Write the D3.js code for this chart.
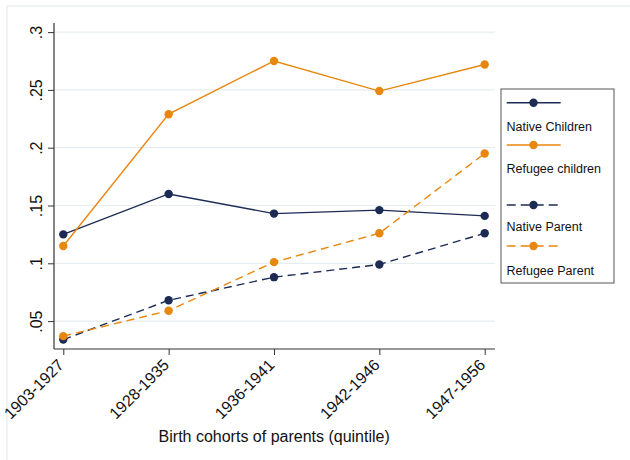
<!DOCTYPE html>
<html>
<head>
<meta charset="utf-8">
<script src="https://cdn.jsdelivr.net/npm/d3@7/dist/d3.min.js"></script>
<style>
  html, body { margin: 0; padding: 0; background: #ffffff; }
  svg { display: block; font-family: "Liberation Sans", Arial, Helvetica, sans-serif; }
</style>
</head>
<body>
<svg id="chart" width="630" height="460"></svg>
<script>
// Birth-cohort quintiles of the parents
const cohorts = ["1903-1927", "1928-1935", "1936-1941", "1942-1946", "1947-1956"];

// Shares by group and cohort
const nativeChildren  = [0.125, 0.160, 0.143, 0.146, 0.141];
const refugeeChildren = [0.115, 0.229, 0.275, 0.249, 0.272];
const nativeParent    = [0.034, 0.068, 0.088, 0.099, 0.126];
const refugeeParent   = [0.037, 0.059, 0.101, 0.126, 0.195];

// Y axis ticks and their labels
const yTicks = [0.05, 0.1, 0.15, 0.2, 0.25, 0.3];
const yTickLabels = [".05", ".1", ".15", ".2", ".25", ".3"];

const xTitle = "Birth cohorts of parents (quintile)";

const NAVY = "#1c2b54";
const ORANGE = "#e8870e";

const series = [
  { name: "Native Children",  values: nativeChildren,  color: NAVY,   dash: null },
  { name: "Refugee children", values: refugeeChildren, color: ORANGE, dash: null },
  { name: "Native Parent",    values: nativeParent,    color: NAVY,   dash: "8,5" },
  { name: "Refugee Parent",   values: refugeeParent,   color: ORANGE, dash: "8,5" }
];

const svg = d3.select("#chart");

// faint outer frame of the graph region
svg.append("rect")
  .attr("x", 7).attr("y", 6)
  .attr("width", 660).attr("height", 480)
  .attr("fill", "none")
  .attr("stroke", "#e9eff1")
  .attr("stroke-width", 1.5);

const plot = { left: 54, right: 495, top: 23, bottom: 349 };

const x = d3.scalePoint()
  .domain(cohorts)
  .range([63.3, 484.7]);

const y = d3.scaleLinear()
  .domain([0.05, 0.3])
  .range([321.1, 32.1]);

// horizontal grid lines
svg.append("g")
  .selectAll("line")
  .data(yTicks)
  .join("line")
  .attr("x1", plot.left).attr("x2", plot.right)
  .attr("y1", d => y(d)).attr("y2", d => y(d))
  .attr("stroke", "#e6eef1")
  .attr("stroke-width", 1.2);

// Y axis
const yAxis = svg.append("g")
  .attr("transform", `translate(${plot.left},0)`)
  .call(d3.axisLeft(y)
    .tickValues(yTicks)
    .tickFormat((d, i) => yTickLabels[i])
    .tickSize(6)
    .tickSizeOuter(0));
yAxis.select(".domain").remove();
yAxis.selectAll(".tick line").attr("stroke", "#333").attr("stroke-width", 1);
yAxis.selectAll(".tick text")
  .attr("x", null).attr("dy", null)
  .attr("transform", "translate(-12.3,0) rotate(-90)")
  .attr("text-anchor", "middle")
  .attr("font-size", 16)
  .attr("fill", "#111");

// X axis
const xAxis = svg.append("g")
  .attr("transform", `translate(0,${plot.bottom})`)
  .call(d3.axisBottom(x).tickSize(6).tickSizeOuter(0));
xAxis.select(".domain").remove();
xAxis.selectAll(".tick line").attr("stroke", "#333").attr("stroke-width", 1);
xAxis.selectAll(".tick text")
  .attr("y", null).attr("dy", null)
  .attr("transform", "translate(1,17) rotate(-45)")
  .attr("text-anchor", "end")
  .attr("font-size", 16)
  .attr("fill", "#111");

// axis lines
svg.append("line")
  .attr("x1", plot.left).attr("x2", plot.left)
  .attr("y1", plot.top).attr("y2", plot.bottom)
  .attr("stroke", "#333").attr("stroke-width", 1.2);
svg.append("line")
  .attr("x1", plot.left).attr("x2", plot.right)
  .attr("y1", plot.bottom).attr("y2", plot.bottom)
  .attr("stroke", "#333").attr("stroke-width", 1.2);

// X axis title
svg.append("text")
  .attr("x", 274.2).attr("y", 441.5)
  .attr("text-anchor", "middle")
  .attr("font-size", 16)
  .attr("fill", "#111")
  .text(xTitle);

// series lines and markers
const line = d3.line()
  .x((d, i) => x(cohorts[i]))
  .y(d => y(d));

series.forEach(s => {
  const g = svg.append("g");
  g.append("path")
    .attr("d", line(s.values))
    .attr("fill", "none")
    .attr("stroke", s.color)
    .attr("stroke-width", 1.4)
    .attr("stroke-dasharray", s.dash);
  g.selectAll("circle")
    .data(s.values)
    .join("circle")
    .attr("cx", (d, i) => x(cohorts[i]))
    .attr("cy", d => y(d))
    .attr("r", 4.2)
    .attr("fill", s.color);
});

// legend
const legend = svg.append("g");
legend.append("rect")
  .attr("x", 501).attr("y", 89)
  .attr("width", 113).attr("height", 194)
  .attr("fill", "#fff")
  .attr("stroke", "#555")
  .attr("stroke-width", 1);

const keyY = [102.7, 145, 205, 246];
const labelY = [131, 173.3, 231, 275];

series.forEach((s, i) => {
  legend.append("line")
    .attr("x1", 506.7).attr("x2", 560.7)
    .attr("y1", keyY[i]).attr("y2", keyY[i])
    .attr("stroke", s.color)
    .attr("stroke-width", 1.4)
    .attr("stroke-dasharray", s.dash ? "9,5" : null);
  legend.append("circle")
    .attr("cx", 533.5).attr("cy", keyY[i])
    .attr("r", 4.2)
    .attr("fill", s.color);
  legend.append("text")
    .attr("x", 506.5).attr("y", labelY[i])
    .attr("font-size", 12.5)
    .attr("fill", "#111")
    .text(s.name);
});
</script>
</body>
</html>
